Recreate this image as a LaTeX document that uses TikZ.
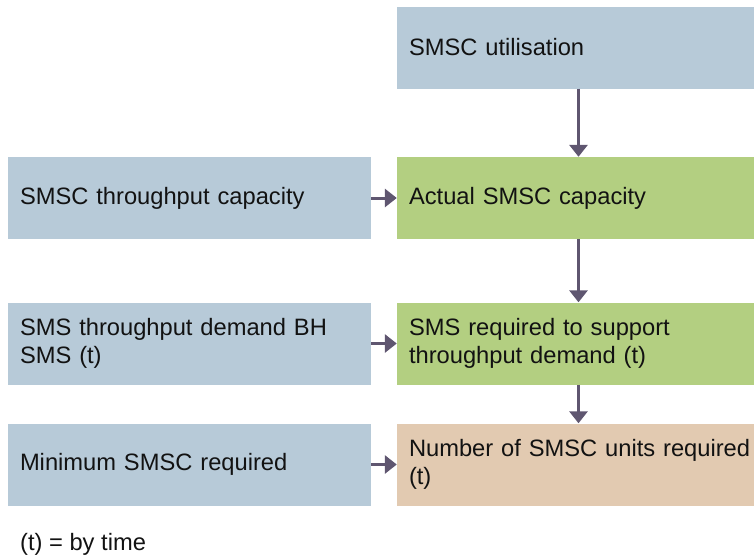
\documentclass[tikz,border=0pt]{standalone}
\usepackage{fontspec}
\setmainfont{Liberation Sans}
\usetikzlibrary{arrows.meta}
\definecolor{boxblue}{HTML}{B7CAD8}
\definecolor{boxgreen}{HTML}{B3CF81}
\definecolor{boxtan}{HTML}{E2CAB1}
\definecolor{arrowc}{HTML}{5F5670}
\tikzset{
  flowbox/.style={rectangle, minimum width=363pt, minimum height=82pt, text width=339pt,
    inner xsep=12pt, inner ysep=0pt, align=left, font=\fontsize{23.7}{28.5}\selectfont, text=black!93},
  bluebox/.style={flowbox, fill=boxblue},
  greenbox/.style={flowbox, fill=boxgreen},
  tanbox/.style={flowbox, fill=boxtan},
  flowarrow/.style={draw=arrowc, line width=3pt, -{Triangle[length=12pt,width=18pt]}}
}
\begin{document}
\begin{tikzpicture}[x=1pt,y=-1pt]
\useasboundingbox (0,0) rectangle (754,558);
\node[bluebox] (util) at (578.5,47.5) {SMSC utilisation};
\node[greenbox] (actual) at (578.5,198) {Actual SMSC capacity};
\node[greenbox] (smsreq) at (578.5,343.5) {SMS required to support\\throughput demand (t)};
\node[tanbox] (units) at (578.5,464.5) {\mbox{Number of SMSC units required}\\(t)};
\node[bluebox] (thrcap) at (189.5,198) {SMSC throughput capacity};
\node[bluebox] (demand) at (189.5,343.5) {SMS throughput demand BH\\SMS (t)};
\node[bluebox] (minsmsc) at (189.5,464.5) {Minimum SMSC required};
\node[anchor=base west, inner sep=0pt, font=\fontsize{23.7}{28.5}\selectfont, text=black!93] (legend) at (20,550) {(t) = by time};
\draw[flowarrow] (util) -- (actual);
\draw[flowarrow] (actual) -- (smsreq);
\draw[flowarrow] (smsreq) -- (units);
\draw[flowarrow] (thrcap) -- (actual);
\draw[flowarrow] (demand) -- (smsreq);
\draw[flowarrow] (minsmsc) -- (units);
\end{tikzpicture}
\end{document}
